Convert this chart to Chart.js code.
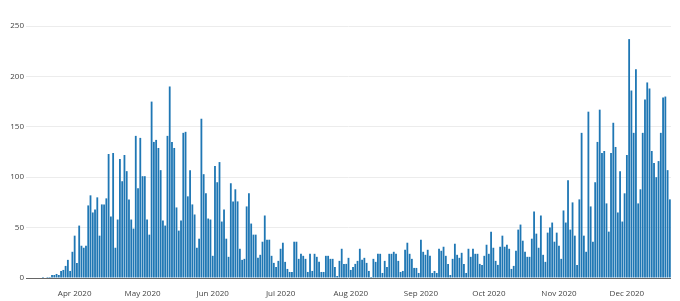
<!DOCTYPE html>
<html>
<head>
<meta charset="utf-8">
<script src="https://cdn.jsdelivr.net/npm/chart.js@4.4.1/dist/chart.umd.min.js"></script>
<style>
  body { margin: 0; background: #fff; }
  canvas { display: block; }
</style>
</head>
<body>
<canvas id="dailyChart" width="680" height="301"></canvas>
<script>
// daily counts, one array per month (first day is 11 Mar 2020)
var firstDay = '2020-03-11';
var mar = [0, 0, 0, 0, 0, 0, 0, 1, 0, 1, 1, 3, 3, 4, 3, 7, 8, 12, 18, 7, 26];
var apr = [42, 15, 52, 32, 30, 32, 72, 82, 65, 68, 80, 42, 73, 73, 79, 123, 61, 124, 30, 58, 118, 96, 122, 106, 78, 58, 49, 141, 89, 139];
var may = [101, 101, 58, 43, 175, 135, 137, 129, 107, 57, 52, 141, 190, 135, 129, 70, 47, 57, 144, 145, 81, 107, 73, 63, 30, 39, 158, 103, 84, 59, 58];
var jun = [22, 111, 95, 115, 56, 68, 39, 21, 94, 76, 88, 76, 29, 18, 19, 71, 84, 54, 43, 43, 20, 23, 36, 62, 38, 38, 22, 15, 11, 17];
var jul = [29, 35, 16, 9, 6, 6, 36, 36, 19, 24, 22, 19, 6, 24, 7, 24, 21, 16, 6, 6, 22, 22, 19, 19, 11, 2, 17, 29, 14, 14, 20];
var aug = [8, 11, 14, 17, 29, 18, 20, 15, 7, 1, 19, 16, 24, 24, 5, 17, 11, 24, 24, 26, 24, 17, 6, 7, 28, 35, 24, 19, 10, 10, 5];
var sep = [38, 26, 23, 28, 22, 5, 7, 5, 29, 27, 31, 22, 14, 3, 19, 34, 23, 20, 25, 14, 5, 29, 21, 29, 24, 24, 14, 13, 22, 33];
var oct = [24, 46, 30, 17, 13, 31, 42, 31, 33, 29, 9, 12, 27, 48, 53, 37, 26, 21, 21, 39, 66, 44, 30, 62, 23, 16, 45, 50, 55, 36, 45];
var nov = [32, 19, 67, 55, 97, 48, 75, 42, 13, 78, 144, 42, 26, 165, 71, 36, 95, 135, 167, 124, 126, 74, 46, 124, 154, 130, 65, 106, 56, 84];
var dec = [122, 237, 186, 144, 207, 74, 88, 144, 177, 194, 188, 126, 114, 100, 116, 144, 179, 180, 107, 78];

var monthNames = ['Jan', 'Feb', 'Mar', 'Apr', 'May', 'Jun', 'Jul', 'Aug', 'Sep', 'Oct', 'Nov', 'Dec'];
var yTicks = [0, 50, 100, 150, 200, 250];

var counts = [].concat(mar, apr, may, jun, jul, aug, sep, oct, nov, dec);

// one category per day
var dates = [];
var d = new Date(firstDay + 'T00:00:00Z');
for (var i = 0; i < counts.length; i++) {
    dates.push(d.toISOString().slice(0, 10));
    d.setUTCDate(d.getUTCDate() + 1);
}

function monthLabel(iso) {
    return monthNames[parseInt(iso.slice(5, 7), 10) - 1] + ' ' + iso.slice(0, 4);
}

var tickFont = { family: '"Open Sans", sans-serif', size: 8 };

var ctx = document.getElementById('dailyChart');
var dailyChart = new Chart(ctx, {
    type: 'bar',
    data: {
        labels: dates,
        datasets: [{
            data: counts,
            backgroundColor: '#1f77b4',
            borderWidth: 0,
            barPercentage: 0.8,
            categoryPercentage: 1.0
        }]
    },
    options: {
        responsive: false,
        animation: false,
        layout: { padding: { top: 26, right: 9, left: 0, bottom: 0 } },
        plugins: {
            legend: { display: false },
            tooltip: { enabled: false }
        },
        scales: {
            x: {
                grid: { display: false },
                border: { display: false },
                afterBuildTicks: function (scale) {
                    scale.ticks = scale.ticks.filter(function (t) {
                        return dates[t.value].slice(8) === '01';
                    });
                },
                afterFit: function (scale) { scale.height = 23; },
                ticks: {
                    autoSkip: false,
                    maxRotation: 0,
                    padding: 3,
                    color: '#444',
                    font: tickFont,
                    callback: function (value) { return monthLabel(dates[value]); }
                }
            },
            y: {
                min: 0,
                max: 250,
                border: { display: false },
                grid: {
                    drawTicks: false,
                    color: function (c) { return c.tick && c.tick.value === 0 ? '#666' : '#ececec'; }
                },
                afterBuildTicks: function (scale) {
                    scale.ticks = yTicks.map(function (v) { return { value: v }; });
                },
                afterFit: function (scale) { scale.width = 26; },
                ticks: {
                    padding: 2,
                    color: '#444',
                    font: tickFont
                }
            }
        }
    }
});
</script>
</body>
</html>
